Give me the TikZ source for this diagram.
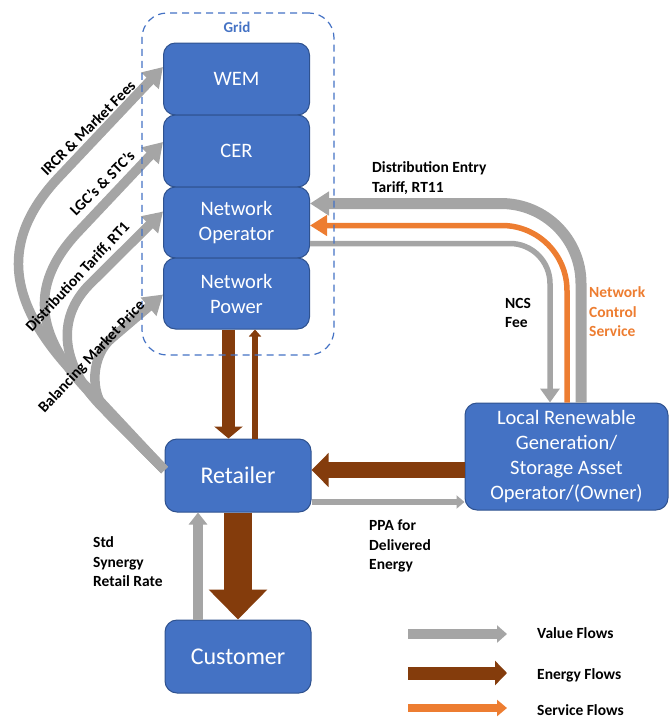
\documentclass[tikz,border=0pt]{standalone}
\usepackage{fontspec}
\setmainfont{Carlito}
\usetikzlibrary{arrows.meta,calc}
\definecolor{vgrey}{HTML}{A5A5A5}
\definecolor{ebrown}{HTML}{843C0C}
\definecolor{sorange}{HTML}{ED7D31}
\definecolor{bfill}{HTML}{4472C4}
\definecolor{bdraw}{HTML}{2F528F}
\newcommand\bxf{\fontsize{20.5}{25}\selectfont}
\newcommand\bigbxf{\fontsize{24}{28}\selectfont}
\newcommand\lblf{\fontsize{15.5}{19.5}\selectfont\bfseries}
\tikzset{
  bx/.style={draw=bdraw, line width=1pt, fill=bfill, rounded corners=12pt, text=white,
    inner sep=0pt, align=center, font=\bxf},
  gridbx/.style={bx, minimum width=146pt, minimum height=72pt},
  lbl/.style={font=\lblf, align=left, inner sep=0pt, text=black},
  vflow/.style={draw=vgrey, line width=#1},
  eflow/.style={draw=ebrown, line width=#1},
  sflow/.style={draw=sorange, line width=#1},
  leftflow/.style={vflow=9.5pt, line join=round, -{Triangle[width=23pt,length=19pt]}},
}
\begin{document}
\begin{tikzpicture}[x=1pt,y=-1pt]
\useasboundingbox (0,0) rectangle (669,718);

% grid boxes
\node[gridbx] (wem) at (236.5,79) {WEM};
\node[gridbx] (cer) at (236.5,151) {CER};
\node[gridbx, minimum height=71pt] (no) at (236.5,222.5) {Network\\Operator};
\node[gridbx, minimum height=71pt] (np) at (236.5,293.5) {Network\\Power};
\node[bx, font=\bigbxf, minimum width=146pt, minimum height=73pt] (ret) at (238,475.5) {Retailer};
\node[bx, font=\bigbxf, minimum width=146pt, minimum height=73pt] (cust) at (238,656.5) {Customer};
\node[bx, minimum width=203pt, minimum height=107pt] (loc) at (566.5,456.5) {Local Renewable\\Generation/\\Storage Asset\\Operator/(Owner)};

% energy flows
\draw[eflow=13pt, -{Triangle[width=28pt,length=12pt]}] ([xshift=-8pt]np.south) -- ([xshift=-8pt]np.south |- ret.north);
\draw[eflow=6pt, -{Triangle[width=12pt,length=7pt]}] ([xshift=18.5pt]np.south |- ret.north) -- ([xshift=18.5pt]np.south);
\draw[eflow=16pt, -{Triangle[width=33pt,length=17pt]}] ([yshift=-13.5pt]loc.west) -- ([yshift=-13.5pt]loc.west -| ret.east);
\draw[eflow=28pt, -{Triangle[width=57pt,length=30pt]}] (ret.south) -- (cust.north);

% value flows
\draw[vflow=10pt, -{Triangle[width=18pt,length=12pt]}] ([xshift=-40pt]cust.north) -- ([xshift=-40pt]cust.north |- ret.south);
\draw[vflow=6.5pt, -{Triangle[width=13pt,length=8pt]}] ([yshift=-26.5pt]ret.east) -- ([yshift=-26.5pt]ret.east -| loc.west);

% top right flows
\draw[vflow=11pt, rounded corners=80pt, -{Triangle[width=23pt,length=19pt]}] ([xshift=14.5pt]loc.north) |- ([yshift=19pt]no.east);
\draw[sflow=5.5pt, rounded corners=65pt, -{Triangle[width=20pt,length=17pt]}] ([xshift=0.5pt]loc.north) |- ([yshift=-3pt]no.east);
\draw[vflow=5.5pt, rounded corners=40pt, -{Triangle[width=19pt,length=14pt]}] ([yshift=-21pt]no.east) -| ([xshift=-16.5pt]loc.north);

% left curved value flows
\coordinate (rs) at ([yshift=5.5pt]ret.west);
\draw[leftflow] (rs) -- (85,385) .. controls +(-71,-71) and +(-69,72) .. (60,176) -- ([yshift=12pt]wem.west);
\draw[leftflow] (rs) -- (95,398) .. controls +(-57,-57) and +(-56,58) .. (80,230) -- ([yshift=9pt]cer.west);
\draw[leftflow] (rs) -- (103,408) .. controls +(-39,-39) and +(-40,38) .. (92,282) -- ([yshift=11pt]no.west);
\draw[leftflow] (rs) -- (108,413) .. controls +(-20,-20) and +(-20,16) .. (112,338) -- ([yshift=-1pt]np.west);

% grid frame
\node[draw=bfill, dash pattern=on 7pt off 5pt, line width=1.2pt, rounded corners=25pt, minimum width=192pt, minimum height=342pt, inner sep=0pt] (grid) at (238,184) {};
\node[font=\fontsize{15}{18}\selectfont\bfseries, text=bfill, inner sep=0pt] (gridl) at (237,27) {Grid};

% labels
\node[lbl, rotate=45] (l1) at (88,128) {IRCR \& Market Fees};
\node[lbl, rotate=45] (l2) at (102,183) {LGC’s \& STC’s};
\node[lbl, rotate=47] (l3) at (78,277) {Distribution Tariff, RT1};
\node[lbl, rotate=47] (l4) at (92,357) {Balancing Market Price};
\node[lbl, anchor=west] (l5) at (372,178) {Distribution Entry\\Tariff, RT11};
\node[lbl, anchor=west] (l6) at (505,313) {NCS\\Fee};
\node[lbl, anchor=west, text=sorange] (l7) at (589,312) {Network\\Control\\Service};
\node[lbl, anchor=west] (l8) at (369,546) {PPA for\\Delivered\\Energy};
\node[lbl, anchor=west] (l9) at (93,562) {Std\\Synergy\\Retail Rate};

% legend
\coordinate (lv1) at (408,634); \coordinate (lv2) at (507,634);
\coordinate (le1) at (408,673); \coordinate (le2) at (507,673);
\coordinate (ls1) at (408,708); \coordinate (ls2) at (507,708);
\draw[vflow=10pt, -{Triangle[width=17pt,length=10pt]}] (lv1) -- (lv2);
\draw[eflow=13pt, -{Triangle[width=24pt,length=12pt]}] (le1) -- (le2);
\draw[sflow=8pt, -{Triangle[width=16pt,length=10pt]}] (ls1) -- (ls2);
\node[lbl, anchor=west] (lt1) at (537,633) {Value Flows};
\node[lbl, anchor=west] (lt2) at (537,675) {Energy Flows};
\node[lbl, anchor=west] (lt3) at (537,710) {Service Flows};
\end{tikzpicture}
\end{document}
